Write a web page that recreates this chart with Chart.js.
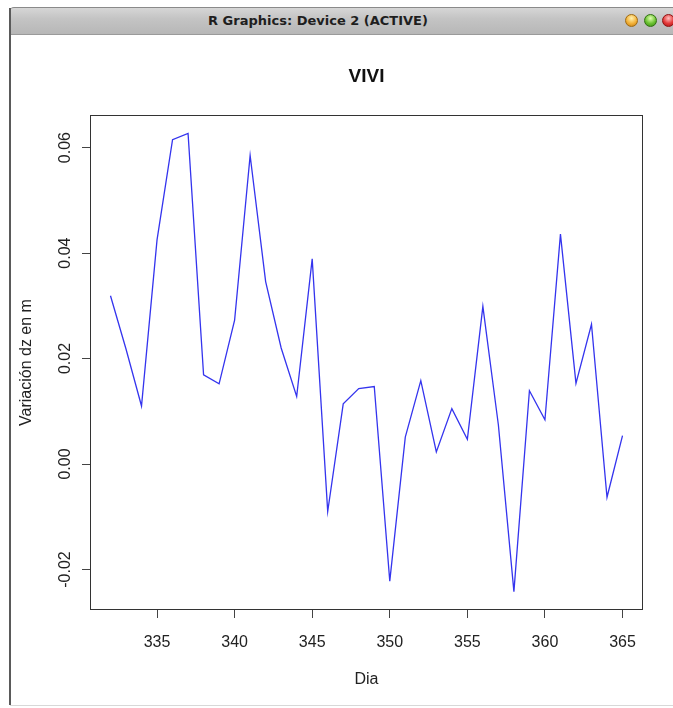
<!DOCTYPE html>
<html>
<head>
<meta charset="utf-8">
<title>VIVI</title>
<script src="https://cdn.jsdelivr.net/npm/chart.js@4/dist/chart.umd.min.js"></script>
<style>
  html, body { margin: 0; padding: 0; background: #fff; }
  body { width: 673px; height: 708px; position: relative; overflow: hidden; }
  #titlebar {
    position: absolute; left: 10px; top: 7px; width: 680px; height: 28px;
    background: linear-gradient(#d6d6d6, #c4c4c4 40%, #b7b7b7);
    border-top: 1px solid #8a8a8a; border-bottom: 1px solid #9a9a9a;
    border-top-left-radius: 4px; box-sizing: border-box;
  }
  #titlebar span {
    position: absolute; left: 0; width: 616px; top: 5px; text-align: center;
    font: bold 13px "DejaVu Sans", "Liberation Sans", Arial, sans-serif; color: #1e1e1e;
  }
  .btn { position: absolute; top: 14px; width: 13px; height: 13px; border-radius: 50%; box-sizing: border-box; }
  #b1 { left: 625px; background: radial-gradient(circle at 50% 30%, #fff2b0, #f3b23a 55%, #c27a10); border: 1px solid #a06a10; }
  #b2 { left: 644px; background: radial-gradient(circle at 50% 30%, #e0ffb0, #6cc232 55%, #3a8a12); border: 1px solid #2f7010; }
  #b3 { left: 662px; background: radial-gradient(circle at 50% 30%, #ffc0c0, #e43a3a 55%, #a81414); border: 1px solid #901010; }
  #leftedge { position: absolute; left: 9px; top: 8px; width: 2px; height: 697px; background: #5a5a5a; }
  #bottomedge { position: absolute; left: 10px; top: 705px; width: 663px; height: 1px; background: #d8d8d8; }
  #chart { position: absolute; left: 0; top: 0; }
</style>
</head>
<body>
<div id="titlebar"><span>R Graphics: Device 2 (ACTIVE)</span></div>
<div class="btn" id="b1"></div>
<div class="btn" id="b2"></div>
<div class="btn" id="b3"></div>
<div id="leftedge"></div>
<div id="bottomedge"></div>
<canvas id="chart" width="673" height="708"></canvas>
<script>
// Daily change of dz (metres), days 332-365
const dias = [332, 333, 334, 335, 336, 337, 338, 339, 340, 341, 342, 343,
              344, 345, 346, 347, 348, 349, 350, 351, 352, 353, 354, 355,
              356, 357, 358, 359, 360, 361, 362, 363, 364, 365];
const dz = [0.0319, 0.0218, 0.0110, 0.0425, 0.0615, 0.0627, 0.0169, 0.0152,
            0.0273, 0.0585, 0.0346, 0.0220, 0.0128, 0.0389, -0.0090, 0.0114,
            0.0143, 0.0147, -0.0222, 0.0051, 0.0158, 0.0023, 0.0105, 0.0047,
            0.0299, 0.0074, -0.0242, 0.0139, 0.0084, 0.0436, 0.0153, 0.0265,
            -0.0063, 0.0054];
const xTicks = [335, 340, 345, 350, 355, 360, 365];
const yTicks = [-0.02, 0.00, 0.02, 0.04, 0.06];
const yTickLabels = ['-0.02', '0.00', '0.02', '0.04', '0.06'];
const mainTitle = 'VIVI';

const FONT = '"Liberation Sans", Arial, Helvetica, sans-serif';

// R-style axis limits: data range widened by 4% on each side
function rLimits(v) {
  const lo = Math.min(...v), hi = Math.max(...v), d = (hi - lo) * 0.04;
  return [lo - d, hi + d];
}
const [xMin, xMax] = rLimits(dias);
const [yMin, yMax] = rLimits(dz);

const points = dias.map((d, i) => ({ x: d, y: dz[i] }));

// Plot box, title centred over the plot region, and rotated y tick labels
const rFrame = {
  id: 'rFrame',
  afterDraw(chart) {
    const { ctx, chartArea: a } = chart;
    ctx.save();
    ctx.strokeStyle = '#333';
    ctx.lineWidth = 1;
    ctx.strokeRect(Math.round(a.left) + 0.5, Math.round(a.top) + 0.5,
                   Math.round(a.right - a.left) - 1, Math.round(a.bottom - a.top) - 1);

    ctx.fillStyle = '#111';
    ctx.font = 'bold 19px ' + FONT;
    ctx.textAlign = 'center';
    ctx.textBaseline = 'alphabetic';
    ctx.fillText(mainTitle, (a.left + a.right) / 2, a.top - 33);

    const ys = chart.scales.y;
    ctx.fillStyle = '#222';
    ctx.font = '16px ' + FONT;
    yTicks.forEach((v, i) => {
      const py = ys.getPixelForValue(v);
      ctx.save();
      ctx.translate(70, py);
      ctx.rotate(-Math.PI / 2);
      ctx.fillText(yTickLabels[i], 0, 0);
      ctx.restore();
    });
    ctx.restore();
  }
};

new Chart(document.getElementById('chart'), {
  type: 'line',
  data: {
    datasets: [{
      data: points,
      borderColor: '#3434ee',
      borderWidth: 1.3,
      pointRadius: 0,
      tension: 0,
      fill: false
    }]
  },
  options: {
    responsive: false,
    animation: false,
    events: [],
    layout: { padding: { top: 115, right: 30, bottom: 0, left: 0 } },
    plugins: {
      legend: { display: false },
      tooltip: { enabled: false },
      title: { display: false }
    },
    scales: {
      x: {
        type: 'linear',
        min: xMin,
        max: xMax,
        afterBuildTicks: s => { s.ticks = xTicks.map(v => ({ value: v })); },
        afterFit: s => { s.height = 98; },
        border: { display: false },
        grid: { drawOnChartArea: false, drawTicks: true, tickLength: 8, color: '#444', lineWidth: 1 },
        ticks: {
          autoSkip: false, maxRotation: 0, minRotation: 0, padding: 15,
          color: '#222', font: { family: FONT, size: 16 },
          callback: v => String(v)
        },
        title: {
          display: true, text: 'Dia', color: '#222',
          font: { family: FONT, size: 16, lineHeight: 1.2 },
          padding: { top: 0, bottom: 18.4 }
        }
      },
      y: {
        type: 'linear',
        min: yMin,
        max: yMax,
        afterBuildTicks: s => { s.ticks = yTicks.map(v => ({ value: v })); },
        afterFit: s => { s.width = 90; },
        border: { display: false },
        grid: { drawOnChartArea: false, drawTicks: true, tickLength: 8, color: '#444', lineWidth: 1 },
        ticks: { display: false },
        title: {
          display: true, text: 'Variación dz en m', color: '#222',
          font: { family: FONT, size: 16, lineHeight: 1.2 },
          padding: { top: 17.3, bottom: 0 }
        }
      }
    }
  },
  plugins: [rFrame]
});
</script>
</body>
</html>
